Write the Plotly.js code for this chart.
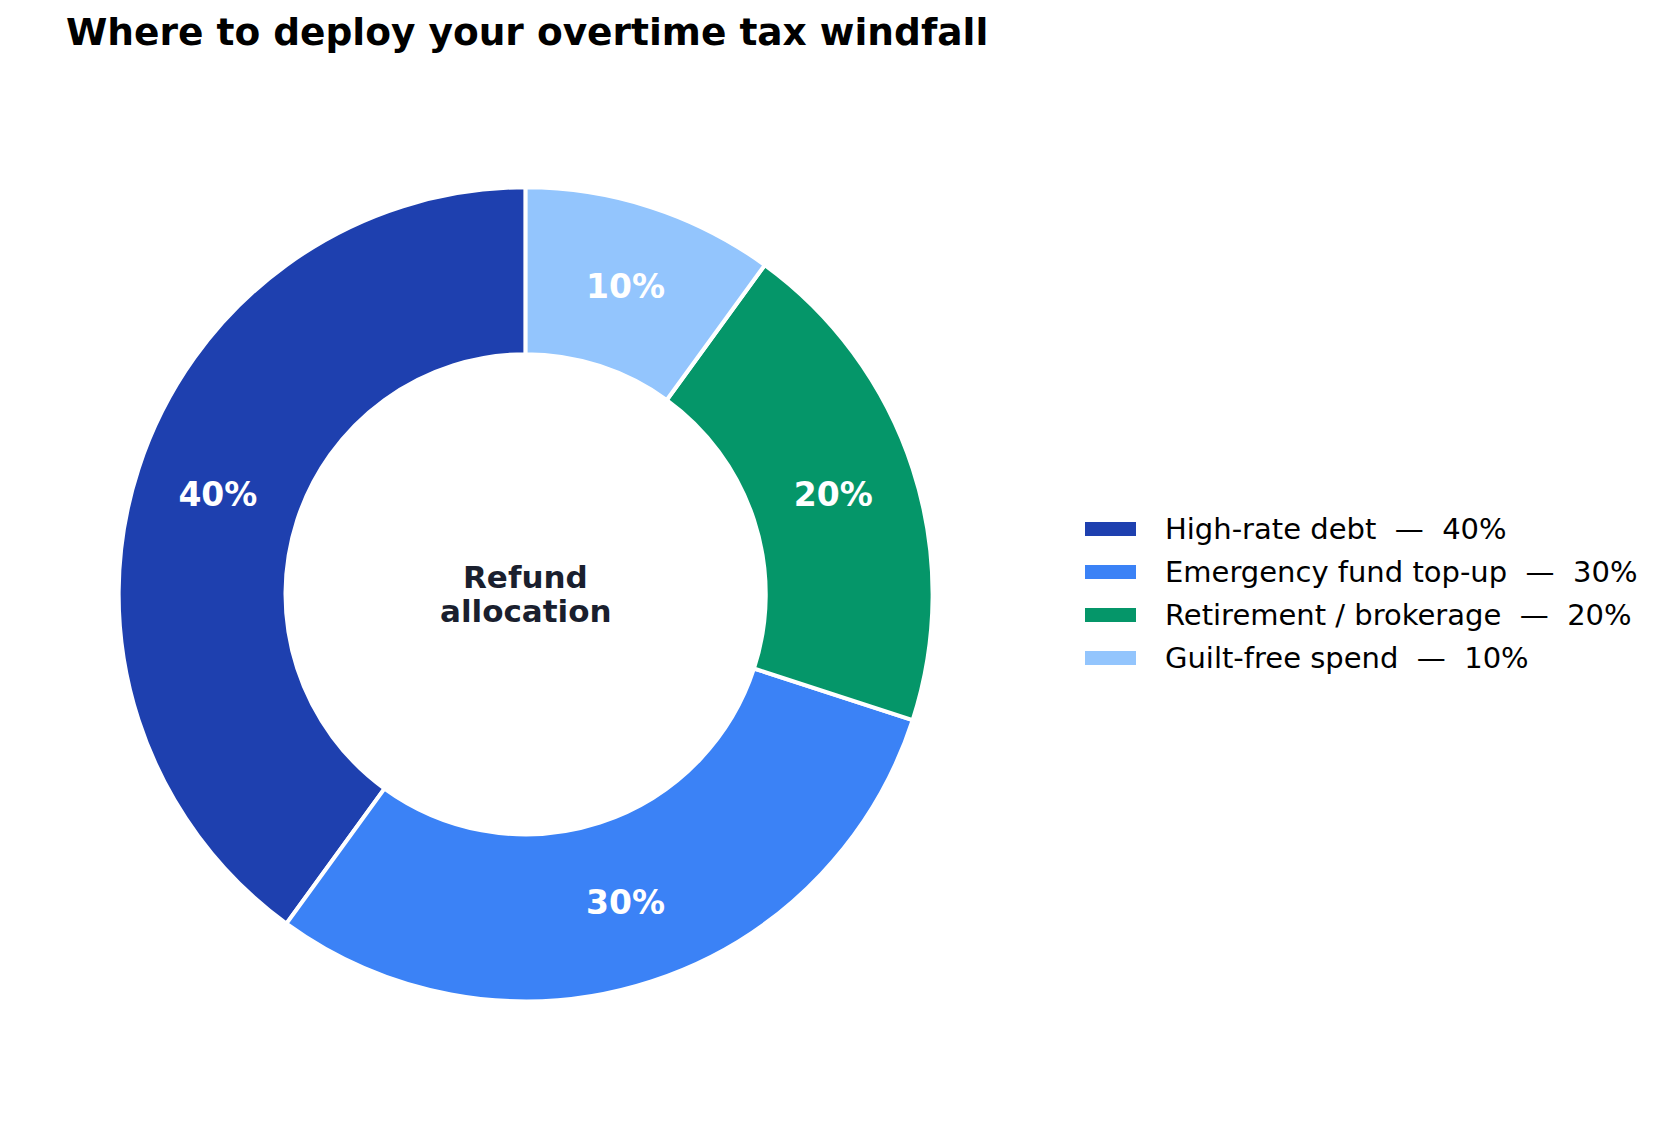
<!DOCTYPE html>
<html>
<head>
<meta charset="utf-8">
<script src="https://cdn.plot.ly/plotly-3.0.1.min.js"></script>
<style>
  html, body { margin: 0; padding: 0; background: #fff; }
  #chart { width: 1666px; height: 1121px; }
</style>
</head>
<body>
<div id="chart"></div>
<script>
var labels = ['High-rate debt', 'Emergency fund top-up', 'Retirement / brokerage', 'Guilt-free spend'];
var shares = [40, 30, 20, 10];
var colors = ['#1e40af', '#3b82f6', '#059669', '#93c5fd'];
var centerLines = ['Refund', 'allocation'];

var W = 1666, H = 1121;
var font = 'DejaVu Sans, sans-serif';

// plotly's counterclockwise mode ends the first slice at `rotation`,
// so shift it so the first slice starts at 12 o'clock instead
var total = shares.reduce(function (a, b) { return a + b; }, 0);
var startRot = 360 - shares[0] / total * 360;

var donut = {
  type: 'pie',
  labels: labels,
  values: shares,
  hole: 0.59,
  sort: false,
  direction: 'counterclockwise',
  rotation: startRot,
  marker: { colors: colors, line: { color: '#ffffff', width: 4 } },
  texttemplate: '%{value:.0f}%',
  textposition: 'inside',
  insidetextorientation: 'horizontal',
  textfont: { family: font, size: 33, color: '#ffffff', weight: 'bold' },
  domain: { x: [0.0712, 0.5598], y: [0.1068, 0.8329] },
  showlegend: false,
  hoverinfo: 'label+percent'
};

// legend drawn as wide swatches + text, built from the arrays above
var shapes = [];
var annotations = [];
var rowTop = 529, rowStep = 43;
labels.forEach(function (name, i) {
  var cy = rowTop + i * rowStep;
  shapes.push({
    type: 'rect', xref: 'paper', yref: 'paper',
    x0: 1085 / W, x1: 1136 / W,
    y0: 1 - (cy + 7) / H, y1: 1 - (cy - 7) / H,
    fillcolor: colors[i], line: { width: 0 }
  });
  annotations.push({
    xref: 'paper', yref: 'paper',
    x: 1163 / W, y: 1 - cy / H,
    xanchor: 'left', yanchor: 'middle',
    text: name + '\u00a0\u00a0\u2014\u00a0\u00a0' + shares[i] + '%',
    showarrow: false,
    font: { family: font, size: 29, color: '#000000' }
  });
});

centerLines.forEach(function (line, i) {
  annotations.push({
    xref: 'paper', yref: 'paper',
    x: 525.7 / W, y: 1 - (577 + i * 34) / H,
    xanchor: 'center', yanchor: 'middle',
    text: '<b>' + line + '</b>',
    showarrow: false,
    font: { family: font, size: 31, color: '#1a1f2e' }
  });
});

var layout = {
  width: W,
  height: H,
  margin: { l: 0, r: 0, t: 0, b: 0 },
  paper_bgcolor: '#ffffff',
  title: {
    text: '<b>Where to deploy your overtime tax windfall</b>',
    x: 66 / W, xanchor: 'left', xref: 'container',
    y: 1 - 32 / H, yanchor: 'middle', yref: 'container',
    font: { family: font, size: 37.5, color: '#000000' }
  },
  shapes: shapes,
  annotations: annotations,
  showlegend: false
};

Plotly.newPlot('chart', [donut], layout, { displayModeBar: false });
</script>
</body>
</html>
